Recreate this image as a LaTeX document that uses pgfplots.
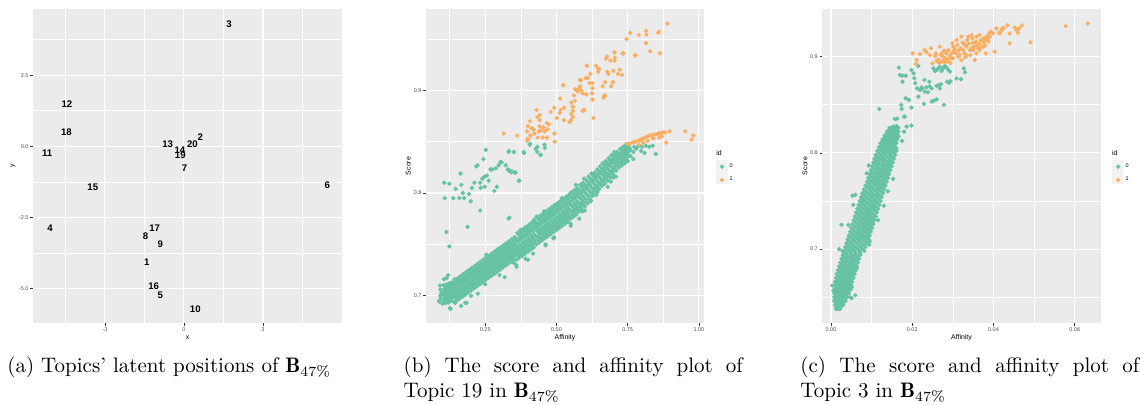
\documentclass[border=0pt]{standalone}
\usepackage{fontspec}
\usepackage{pgfplots}
\pgfplotsset{compat=1.18}
\newfontfamily\ggfont{Liberation Sans}
\newcommand\ticks{\ggfont\fontsize{2.75}{3.3}\selectfont}
\newcommand\ttl{\ggfont\fontsize{3.45}{4.1}\selectfont}
\newcommand\lab{\ggfont\bfseries\fontsize{4.8}{5.8}\selectfont}
\newcommand\capf{\fontsize{10.5}{12.5}\selectfont}
\definecolor{gg0}{HTML}{66C2A5}
\definecolor{gg1}{HTML}{FDAE61}
\definecolor{panel}{HTML}{EBEBEB}
\definecolor{keybg}{HTML}{F2F2F2}
\definecolor{tickc}{HTML}{333333}
\definecolor{tlab}{HTML}{4D4D4D}
\pgfplotsset{
  gg/.style={
    scale only axis, anchor=south west,
    axis background/.style={fill=panel},
    axis line style={draw=none},
    grid=both,
    major grid style={white, line width=0.55pt},
    minor grid style={white, line width=0.3pt},
    tick align=outside, xtick pos=left, ytick pos=left,
    major tick length=1.4pt, minor tick length=0pt,
    tick style={draw=tickc, line width=0.35pt},
    tick label style={font=\ticks, text=tlab},
    xticklabel style={inner sep=0.7pt},
    yticklabel style={inner sep=0.7pt},
    label style={font=\ttl, text=black},
    xlabel style={at={(axis description cs:0.5,-0.047)}, anchor=center},
    scaled ticks=false,
    /pgf/number format/assume math mode=true,
  },
  dots/.style={only marks, mark=*, mark size=0.88pt, mark options={draw=none, fill=#1}, color=#1},
  ggleg/.style={
    legend style={draw=none, fill=none, font=\ticks, at={(rel axis cs:#1,0.512)},
      anchor=north west, inner sep=0pt, row sep=2.6pt, column sep=2.6pt,
      nodes={inner sep=0.3pt}, cells={anchor=west}},
    legend image code/.code={\draw[##1] plot coordinates {(0pt,0pt)};},
  },
}
\begin{document}
\begin{tikzpicture}
\useasboundingbox (0,0) rectangle (570pt,202pt);
% legend key backgrounds
\fill[keybg] (358pt,110.25pt) rectangle (364pt,122.25pt);
\fill[keybg] (556pt,110.25pt) rectangle (561.5pt,122.25pt);

% (a) latent positions
\begin{axis}[gg, at={(16.5pt,40.5pt)}, width=154.5pt, height=157pt,
  xmin=-5.73, xmax=6.0, ymin=-6.2, ymax=4.82,
  xtick={-3,0,3}, minor xtick={-4.5,-1.5,1.5,4.5},
  ytick={-5,-2.5,0,2.5}, minor ytick={-3.75,-1.25,1.25,3.75},
  yticklabel style={/pgf/number format/fixed, /pgf/number format/fixed zerofill, /pgf/number format/precision=1},
  xlabel={x}, ylabel={y},
  ylabel style={at={(axis description cs:-0.065,0.5)}, anchor=center},
]
\addplot[only marks, mark=none, nodes near coords, point meta=explicit symbolic,
  nodes near coords align={center},
  every node near coord/.append style={font=\lab, text=black, inner sep=0pt, anchor=center}]
  table[meta=lab] {
x y lab
1.71 4.30 3
-4.44 1.49 12
-4.46 0.48 18
-5.19 -0.24 11
-0.62 0.09 13
0.62 0.33 2
0.32 0.06 20
-0.15 -0.13 14
-0.14 -0.31 19
0.02 -0.78 7
-3.46 -1.42 15
5.44 -1.38 6
-5.08 -2.89 4
-1.11 -2.86 17
-1.46 -3.14 8
-0.90 -3.45 9
-1.41 -4.05 1
-1.15 -4.91 16
-0.90 -5.21 5
0.43 -5.73 10
};
\end{axis}

% (b) Topic 19
\begin{axis}[gg, ggleg=1.057, at={(213pt,40.5pt)}, width=139pt, height=157pt,
  xmin=0.042, xmax=1.018, ymin=0.6734, ymax=0.9792,
  xtick={0.25,0.5,0.75,1}, minor xtick={0.125,0.375,0.625,0.875},
  ytick={0.7,0.8,0.9}, minor ytick={0.75,0.85,0.95},
  xticklabel style={/pgf/number format/fixed, /pgf/number format/fixed zerofill, /pgf/number format/precision=2},
  yticklabel style={/pgf/number format/fixed, /pgf/number format/fixed zerofill, /pgf/number format/precision=1},
  xlabel={Affinity}, ylabel={Score},
  ylabel style={at={(axis description cs:-0.064,0.5)}, anchor=center},
]
\addplot[dots=gg0] coordinates {
(0.090,0.694) (0.094,0.697) (0.092,0.700) (0.096,0.703) (0.093,0.706)
(0.100,0.692) (0.104,0.697) (0.102,0.701) (0.106,0.706) (0.103,0.710)
(0.110,0.693) (0.114,0.698) (0.112,0.702) (0.116,0.707) (0.113,0.711)
(0.120,0.694) (0.124,0.699) (0.122,0.703) (0.126,0.708) (0.123,0.712)
(0.130,0.695) (0.134,0.700) (0.132,0.704) (0.136,0.709) (0.133,0.713)
(0.140,0.694) (0.144,0.700) (0.142,0.705) (0.146,0.711) (0.143,0.716)
(0.150,0.695) (0.154,0.701) (0.152,0.706) (0.156,0.712) (0.153,0.717)
(0.160,0.697) (0.164,0.703) (0.162,0.708) (0.166,0.714) (0.163,0.719)
(0.170,0.699) (0.174,0.705) (0.172,0.710) (0.176,0.716) (0.173,0.721)
(0.180,0.701) (0.184,0.707) (0.182,0.712) (0.186,0.718) (0.183,0.723)
(0.190,0.703) (0.194,0.709) (0.192,0.714) (0.196,0.720) (0.193,0.725)
(0.200,0.705) (0.204,0.711) (0.202,0.716) (0.206,0.722) (0.203,0.727)
(0.210,0.707) (0.214,0.713) (0.212,0.718) (0.216,0.724) (0.213,0.729)
(0.220,0.709) (0.224,0.715) (0.222,0.720) (0.226,0.726) (0.223,0.731)
(0.230,0.711) (0.234,0.717) (0.232,0.722) (0.236,0.728) (0.233,0.733)
(0.240,0.713) (0.244,0.719) (0.242,0.724) (0.246,0.730) (0.243,0.735)
(0.250,0.715) (0.254,0.721) (0.252,0.726) (0.256,0.732) (0.253,0.737)
(0.260,0.717) (0.264,0.723) (0.262,0.728) (0.266,0.734) (0.263,0.739)
(0.270,0.719) (0.274,0.725) (0.272,0.730) (0.276,0.736) (0.273,0.741)
(0.280,0.721) (0.284,0.727) (0.282,0.732) (0.286,0.738) (0.283,0.743)
(0.290,0.723) (0.294,0.729) (0.292,0.734) (0.296,0.740) (0.293,0.745)
(0.300,0.725) (0.304,0.731) (0.302,0.736) (0.306,0.742) (0.303,0.747)
(0.310,0.727) (0.314,0.733) (0.312,0.738) (0.316,0.744) (0.313,0.749)
(0.320,0.729) (0.324,0.735) (0.322,0.740) (0.326,0.746) (0.323,0.751)
(0.330,0.731) (0.334,0.737) (0.332,0.742) (0.336,0.748) (0.333,0.753)
(0.340,0.733) (0.344,0.739) (0.342,0.744) (0.346,0.750) (0.343,0.755)
(0.350,0.735) (0.354,0.741) (0.352,0.746) (0.356,0.752) (0.353,0.757)
(0.360,0.735) (0.364,0.742) (0.362,0.748) (0.366,0.755) (0.363,0.761)
(0.370,0.737) (0.374,0.744) (0.372,0.750) (0.376,0.757) (0.373,0.763)
(0.380,0.739) (0.384,0.746) (0.382,0.752) (0.386,0.759) (0.383,0.765)
(0.390,0.741) (0.394,0.748) (0.392,0.754) (0.396,0.761) (0.393,0.767)
(0.400,0.743) (0.404,0.750) (0.402,0.756) (0.406,0.763) (0.403,0.769)
(0.410,0.745) (0.414,0.752) (0.412,0.758) (0.416,0.765) (0.413,0.771)
(0.420,0.747) (0.424,0.754) (0.422,0.760) (0.426,0.767) (0.423,0.773)
(0.430,0.750) (0.434,0.757) (0.432,0.763) (0.436,0.770) (0.433,0.776)
(0.440,0.752) (0.444,0.759) (0.442,0.765) (0.446,0.772) (0.443,0.778)
(0.450,0.754) (0.454,0.761) (0.452,0.767) (0.456,0.774) (0.453,0.780)
(0.460,0.756) (0.464,0.763) (0.462,0.769) (0.466,0.776) (0.463,0.782)
(0.470,0.758) (0.474,0.765) (0.472,0.771) (0.476,0.778) (0.473,0.784)
(0.480,0.760) (0.484,0.767) (0.482,0.773) (0.486,0.780) (0.483,0.786)
(0.490,0.762) (0.494,0.769) (0.492,0.775) (0.496,0.782) (0.493,0.788)
(0.500,0.764) (0.504,0.771) (0.502,0.777) (0.506,0.784) (0.503,0.790)
(0.510,0.766) (0.514,0.773) (0.512,0.779) (0.516,0.786) (0.513,0.792)
(0.520,0.768) (0.524,0.775) (0.522,0.781) (0.526,0.788) (0.523,0.794)
(0.530,0.770) (0.534,0.777) (0.532,0.783) (0.536,0.790) (0.533,0.796)
(0.540,0.772) (0.544,0.779) (0.542,0.785) (0.546,0.792) (0.543,0.798)
(0.550,0.775) (0.554,0.782) (0.552,0.788) (0.556,0.795) (0.553,0.801)
(0.560,0.777) (0.564,0.784) (0.562,0.790) (0.566,0.797) (0.563,0.803)
(0.570,0.779) (0.574,0.786) (0.572,0.792) (0.576,0.799) (0.573,0.805)
(0.580,0.782) (0.584,0.789) (0.582,0.795) (0.586,0.802) (0.583,0.808)
(0.590,0.784) (0.594,0.791) (0.592,0.797) (0.596,0.804) (0.593,0.810)
(0.600,0.787) (0.604,0.794) (0.602,0.800) (0.606,0.807) (0.603,0.813)
(0.610,0.790) (0.614,0.797) (0.612,0.803) (0.616,0.810) (0.613,0.816)
(0.620,0.793) (0.624,0.800) (0.622,0.806) (0.626,0.813) (0.623,0.819)
(0.630,0.798) (0.634,0.804) (0.632,0.809) (0.636,0.815) (0.633,0.820)
(0.640,0.801) (0.644,0.807) (0.642,0.812) (0.646,0.818) (0.643,0.823)
(0.650,0.804) (0.654,0.810) (0.652,0.815) (0.656,0.821) (0.653,0.826)
(0.660,0.807) (0.664,0.813) (0.662,0.818) (0.666,0.824) (0.663,0.829)
(0.670,0.809) (0.674,0.815) (0.672,0.820) (0.676,0.826) (0.673,0.831)
(0.680,0.812) (0.684,0.818) (0.682,0.823) (0.686,0.829) (0.683,0.834)
(0.690,0.815) (0.694,0.821) (0.692,0.826) (0.696,0.832) (0.693,0.837)
(0.700,0.818) (0.704,0.824) (0.702,0.829) (0.706,0.835) (0.703,0.840)
(0.710,0.822) (0.714,0.827) (0.712,0.831) (0.716,0.835) (0.713,0.840)
(0.720,0.825) (0.724,0.830) (0.722,0.834) (0.726,0.838) (0.723,0.843)
(0.730,0.827) (0.734,0.832) (0.732,0.836) (0.736,0.840) (0.733,0.845)
(0.740,0.829) (0.744,0.834) (0.742,0.838) (0.746,0.842) (0.743,0.847)
(0.750,0.831) (0.754,0.836) (0.752,0.840) (0.756,0.844) (0.753,0.847)
(0.105,0.695) (0.108,0.700) (0.106,0.704) (0.109,0.709)
(0.115,0.696) (0.118,0.701) (0.116,0.705) (0.119,0.710)
(0.125,0.697) (0.128,0.702) (0.126,0.706) (0.129,0.711)
(0.135,0.698) (0.138,0.703) (0.136,0.707) (0.139,0.712)
(0.145,0.698) (0.148,0.703) (0.146,0.709) (0.149,0.714)
(0.155,0.699) (0.158,0.704) (0.156,0.710) (0.159,0.715)
(0.165,0.701) (0.168,0.706) (0.166,0.712) (0.169,0.717)
(0.175,0.703) (0.178,0.708) (0.176,0.714) (0.179,0.719)
(0.185,0.705) (0.188,0.710) (0.186,0.716) (0.189,0.721)
(0.195,0.707) (0.198,0.712) (0.196,0.718) (0.199,0.723)
(0.205,0.709) (0.208,0.714) (0.206,0.720) (0.209,0.725)
(0.215,0.711) (0.218,0.716) (0.216,0.722) (0.219,0.727)
(0.225,0.713) (0.228,0.718) (0.226,0.724) (0.229,0.729)
(0.235,0.715) (0.238,0.720) (0.236,0.726) (0.239,0.731)
(0.245,0.717) (0.248,0.722) (0.246,0.728) (0.249,0.733)
(0.255,0.719) (0.258,0.724) (0.256,0.730) (0.259,0.735)
(0.265,0.721) (0.268,0.726) (0.266,0.732) (0.269,0.737)
(0.275,0.723) (0.278,0.728) (0.276,0.734) (0.279,0.739)
(0.285,0.725) (0.288,0.730) (0.286,0.736) (0.289,0.741)
(0.295,0.727) (0.298,0.732) (0.296,0.738) (0.299,0.743)
(0.305,0.729) (0.308,0.734) (0.306,0.740) (0.309,0.745)
(0.315,0.731) (0.318,0.736) (0.316,0.742) (0.319,0.747)
(0.325,0.733) (0.328,0.738) (0.326,0.744) (0.329,0.749)
(0.335,0.735) (0.338,0.740) (0.336,0.746) (0.339,0.751)
(0.345,0.737) (0.348,0.742) (0.346,0.748) (0.349,0.753)
(0.355,0.739) (0.358,0.744) (0.356,0.750) (0.359,0.755)
(0.365,0.739) (0.368,0.746) (0.366,0.753) (0.369,0.759)
(0.375,0.741) (0.378,0.748) (0.376,0.755) (0.379,0.761)
(0.385,0.743) (0.388,0.750) (0.386,0.757) (0.389,0.763)
(0.395,0.745) (0.398,0.752) (0.396,0.759) (0.399,0.765)
(0.405,0.747) (0.408,0.754) (0.406,0.761) (0.409,0.767)
(0.415,0.749) (0.418,0.756) (0.416,0.763) (0.419,0.769)
(0.425,0.751) (0.428,0.758) (0.426,0.765) (0.429,0.771)
(0.435,0.754) (0.438,0.761) (0.436,0.768) (0.439,0.774)
(0.445,0.756) (0.448,0.763) (0.446,0.770) (0.449,0.776)
(0.455,0.758) (0.458,0.765) (0.456,0.772) (0.459,0.778)
(0.465,0.760) (0.468,0.767) (0.466,0.774) (0.469,0.780)
(0.475,0.762) (0.478,0.769) (0.476,0.776) (0.479,0.782)
(0.485,0.764) (0.488,0.771) (0.486,0.778) (0.489,0.784)
(0.495,0.766) (0.498,0.773) (0.496,0.780) (0.499,0.786)
(0.505,0.768) (0.508,0.775) (0.506,0.782) (0.509,0.788)
(0.515,0.770) (0.518,0.777) (0.516,0.784) (0.519,0.790)
(0.525,0.772) (0.528,0.779) (0.526,0.786) (0.529,0.792)
(0.535,0.774) (0.538,0.781) (0.536,0.788) (0.539,0.794)
(0.545,0.776) (0.548,0.783) (0.546,0.790) (0.549,0.796)
(0.555,0.779) (0.558,0.786) (0.556,0.793) (0.559,0.799)
(0.565,0.781) (0.568,0.788) (0.566,0.795) (0.569,0.801)
(0.575,0.783) (0.578,0.790) (0.576,0.797) (0.579,0.803)
(0.585,0.786) (0.588,0.793) (0.586,0.800) (0.589,0.806)
(0.595,0.788) (0.598,0.795) (0.596,0.802) (0.599,0.808)
(0.605,0.791) (0.608,0.798) (0.606,0.805) (0.609,0.811)
(0.615,0.794) (0.618,0.801) (0.616,0.808) (0.619,0.814)
(0.625,0.797) (0.628,0.804) (0.626,0.811) (0.629,0.817)
(0.635,0.802) (0.638,0.807) (0.636,0.813) (0.639,0.818)
(0.645,0.805) (0.648,0.810) (0.646,0.816) (0.649,0.821)
(0.655,0.808) (0.658,0.813) (0.656,0.819) (0.659,0.824)
(0.665,0.811) (0.668,0.816) (0.666,0.822) (0.669,0.827)
(0.675,0.813) (0.678,0.818) (0.676,0.824) (0.679,0.829)
(0.685,0.816) (0.688,0.821) (0.686,0.827) (0.689,0.832)
(0.695,0.819) (0.698,0.824) (0.696,0.830) (0.699,0.835)
(0.705,0.822) (0.708,0.827) (0.706,0.833) (0.709,0.838)
(0.715,0.826) (0.718,0.830) (0.716,0.834) (0.719,0.838)
(0.725,0.829) (0.728,0.833) (0.726,0.837) (0.729,0.841)
(0.735,0.831) (0.738,0.835) (0.736,0.839) (0.739,0.843)
(0.745,0.833) (0.748,0.837) (0.746,0.841) (0.749,0.845)
(0.760,0.836) (0.770,0.840) (0.780,0.843) (0.785,0.845) (0.797,0.841)
(0.814,0.846) (0.838,0.846) (0.849,0.838) (0.760,0.842) (0.770,0.833)
(0.800,0.845) (0.826,0.845) (0.773,0.845) (0.809,0.839) (0.848,0.838)
(0.462,0.749) (0.491,0.756) (0.550,0.770) (0.591,0.782) (0.644,0.801)
(0.691,0.811) (0.709,0.816) (0.621,0.792) (0.391,0.736) (0.350,0.732)
(0.568,0.808) (0.597,0.814) (0.550,0.800) (0.456,0.782) (0.421,0.774)
(0.374,0.764) (0.662,0.829) (0.697,0.837) (0.738,0.844)
(0.128,0.687) (0.180,0.693) (0.224,0.702) (0.318,0.718) (0.359,0.730)
(0.418,0.741) (0.489,0.756) (0.254,0.740) (0.395,0.764)
(0.303,0.830) (0.332,0.822) (0.344,0.821) (0.356,0.820) (0.368,0.812)
(0.332,0.775) (0.332,0.840) (0.350,0.840) (0.385,0.840) (0.406,0.847)
(0.427,0.843) (0.444,0.837)
(0.462,0.750) (0.492,0.757) (0.430,0.777) (0.520,0.795) (0.580,0.775)
(0.640,0.798) (0.680,0.806) (0.700,0.815) (0.300,0.720) (0.250,0.711)
(0.200,0.700) (0.165,0.690) (0.126,0.688) (0.120,0.693) (0.144,0.693)
(0.185,0.693) (0.088,0.695) (0.091,0.710) (0.360,0.728) (0.400,0.735)
(0.550,0.768) (0.600,0.783) (0.105,0.716) (0.114,0.717) (0.120,0.720)
(0.106,0.810) (0.124,0.809) (0.108,0.795) (0.114,0.762) (0.124,0.748)
(0.138,0.795) (0.146,0.804) (0.159,0.795) (0.163,0.819) (0.166,0.808)
(0.171,0.800) (0.176,0.795) (0.188,0.767) (0.193,0.799) (0.199,0.792)
(0.203,0.805) (0.212,0.810) (0.218,0.826) (0.223,0.827) (0.232,0.783)
(0.232,0.810) (0.234,0.805) (0.240,0.814) (0.244,0.833) (0.248,0.816)
(0.252,0.842) (0.256,0.817) (0.262,0.812) (0.268,0.823) (0.274,0.823)
(0.282,0.802) (0.287,0.824) (0.291,0.806) (0.297,0.827) (0.307,0.830)
(0.322,0.827) (0.329,0.823) (0.335,0.822) (0.335,0.776) (0.341,0.820)
(0.354,0.820) (0.333,0.841) (0.351,0.840) (0.370,0.812) (0.386,0.839)
(0.407,0.848) (0.433,0.845) (0.433,0.840) (0.445,0.837) (0.458,0.847)
(0.459,0.844) (0.248,0.806)
};
\addplot[dots=gg1] coordinates {
(0.759,0.956) (0.789,0.954) (0.814,0.958) (0.816,0.954) (0.857,0.956)
(0.860,0.957) (0.890,0.965) (0.746,0.950) (0.814,0.946) (0.829,0.938)
(0.863,0.936) (0.778,0.934) (0.735,0.936) (0.704,0.937) (0.705,0.932)
(0.705,0.929) (0.677,0.933) (0.689,0.929) (0.639,0.924) (0.650,0.921)
(0.606,0.924) (0.619,0.916) (0.610,0.912) (0.616,0.907) (0.647,0.918)
(0.679,0.918) (0.682,0.916) (0.700,0.919) (0.716,0.916) (0.722,0.920)
(0.730,0.915) (0.698,0.908) (0.692,0.904) (0.671,0.908) (0.662,0.904)
(0.669,0.895) (0.665,0.893) (0.626,0.907) (0.626,0.902) (0.625,0.897)
(0.626,0.891) (0.605,0.896) (0.586,0.910) (0.583,0.904) (0.586,0.900)
(0.574,0.899) (0.592,0.897) (0.561,0.895) (0.565,0.890) (0.552,0.888)
(0.558,0.884) (0.557,0.880) (0.552,0.877) (0.557,0.874) (0.551,0.871)
(0.546,0.869) (0.524,0.905) (0.513,0.892) (0.501,0.873) (0.515,0.881)
(0.527,0.883) (0.511,0.878) (0.592,0.880) (0.598,0.881) (0.630,0.873)
(0.526,0.871) (0.565,0.901) (0.579,0.902) (0.492,0.883) (0.480,0.879)
(0.473,0.867) (0.466,0.868) (0.468,0.862) (0.441,0.876) (0.441,0.871)
(0.441,0.865) (0.430,0.881) (0.433,0.874) (0.407,0.870) (0.413,0.863)
(0.400,0.865) (0.397,0.860) (0.409,0.856) (0.423,0.858) (0.419,0.862)
(0.439,0.860) (0.445,0.861) (0.454,0.864) (0.458,0.860) (0.467,0.854)
(0.452,0.854) (0.434,0.854) (0.493,0.858) (0.494,0.850) (0.400,0.853)
(0.397,0.851) (0.315,0.858) (0.362,0.856) (0.674,0.931) (0.703,0.937)
(0.732,0.936) (0.776,0.934) (0.646,0.921) (0.603,0.912) (0.582,0.910)
(0.668,0.894) (0.670,0.895) (0.607,0.924) (0.523,0.905)
(0.748,0.848) (0.756,0.848) (0.765,0.849) (0.772,0.850) (0.779,0.850)
(0.787,0.851) (0.795,0.852) (0.803,0.853) (0.810,0.854) (0.818,0.855)
(0.826,0.856) (0.834,0.856) (0.841,0.857) (0.849,0.857) (0.857,0.858)
(0.865,0.858) (0.873,0.859) (0.881,0.859) (0.897,0.860) (0.790,0.847)
(0.805,0.849) (0.820,0.851) (0.840,0.853) (0.860,0.854) (0.885,0.849)
(0.952,0.860) (0.980,0.856) (0.974,0.852) (0.870,0.855)
};
\addlegendentry{0}
\addlegendentry{1}
\end{axis}

% (c) Topic 3
\begin{axis}[gg, ggleg=1.055, at={(411.15pt,40.5pt)}, width=139.2pt, height=157pt,
  xmin=-0.00214, xmax=0.0664, ymin=0.6231, ymax=0.9496,
  xtick={0,0.02,0.04,0.06}, minor xtick={0.01,0.03,0.05},
  ytick={0.7,0.8,0.9}, minor ytick={0.65,0.75,0.85},
  xticklabel style={/pgf/number format/fixed, /pgf/number format/fixed zerofill, /pgf/number format/precision=2},
  yticklabel style={/pgf/number format/fixed, /pgf/number format/fixed zerofill, /pgf/number format/precision=1},
  xlabel={Affinity}, ylabel={Score},
  ylabel style={at={(axis description cs:-0.062,0.5)}, anchor=center},
]
\addplot[dots=gg0] coordinates {
(0.0012,0.638) (0.0015,0.638) (0.0017,0.638) (0.0020,0.638) (0.0022,0.638)
(0.0010,0.642) (0.0015,0.642) (0.0020,0.642) (0.0025,0.642) (0.0030,0.642)
(0.0008,0.646) (0.0015,0.646) (0.0022,0.646) (0.0029,0.646) (0.0036,0.646)
(0.0008,0.650) (0.0016,0.650) (0.0024,0.650) (0.0032,0.650) (0.0040,0.650)
(0.0008,0.654) (0.0017,0.654) (0.0026,0.654) (0.0035,0.654) (0.0044,0.654)
(0.0008,0.658) (0.0018,0.658) (0.0028,0.658) (0.0038,0.658) (0.0048,0.658)
(0.0009,0.662) (0.0019,0.662) (0.0030,0.662) (0.0040,0.662) (0.0050,0.662)
(0.0010,0.666) (0.0021,0.666) (0.0031,0.666) (0.0042,0.666) (0.0052,0.666)
(0.0012,0.670) (0.0023,0.670) (0.0034,0.670) (0.0044,0.670) (0.0055,0.670)
(0.0014,0.674) (0.0025,0.674) (0.0036,0.674) (0.0047,0.674) (0.0058,0.674)
(0.0017,0.678) (0.0028,0.678) (0.0039,0.678) (0.0050,0.678) (0.0061,0.678)
(0.0020,0.682) (0.0031,0.682) (0.0042,0.682) (0.0052,0.682) (0.0063,0.682)
(0.0023,0.686) (0.0034,0.686) (0.0045,0.686) (0.0055,0.686) (0.0066,0.686)
(0.0026,0.690) (0.0037,0.690) (0.0048,0.690) (0.0058,0.690) (0.0069,0.690)
(0.0029,0.694) (0.0040,0.694) (0.0051,0.694) (0.0061,0.694) (0.0072,0.694)
(0.0032,0.698) (0.0045,0.698) (0.0057,0.698) (0.0070,0.698) (0.0082,0.698)
(0.0035,0.702) (0.0048,0.702) (0.0060,0.702) (0.0073,0.702) (0.0085,0.702)
(0.0038,0.706) (0.0051,0.706) (0.0064,0.706) (0.0076,0.706) (0.0089,0.706)
(0.0041,0.710) (0.0054,0.710) (0.0067,0.710) (0.0079,0.710) (0.0092,0.710)
(0.0044,0.714) (0.0057,0.714) (0.0070,0.714) (0.0082,0.714) (0.0095,0.714)
(0.0047,0.718) (0.0060,0.718) (0.0073,0.718) (0.0085,0.718) (0.0098,0.718)
(0.0050,0.722) (0.0063,0.722) (0.0076,0.722) (0.0088,0.722) (0.0101,0.722)
(0.0053,0.726) (0.0066,0.726) (0.0079,0.726) (0.0091,0.726) (0.0104,0.726)
(0.0056,0.730) (0.0069,0.730) (0.0082,0.730) (0.0094,0.730) (0.0107,0.730)
(0.0059,0.734) (0.0072,0.734) (0.0085,0.734) (0.0097,0.734) (0.0110,0.734)
(0.0062,0.738) (0.0075,0.738) (0.0088,0.738) (0.0100,0.738) (0.0113,0.738)
(0.0065,0.742) (0.0078,0.742) (0.0091,0.742) (0.0103,0.742) (0.0116,0.742)
(0.0068,0.746) (0.0081,0.746) (0.0094,0.746) (0.0106,0.746) (0.0119,0.746)
(0.0071,0.750) (0.0084,0.750) (0.0097,0.750) (0.0109,0.750) (0.0122,0.750)
(0.0074,0.754) (0.0087,0.754) (0.0100,0.754) (0.0112,0.754) (0.0125,0.754)
(0.0077,0.758) (0.0090,0.758) (0.0103,0.758) (0.0115,0.758) (0.0128,0.758)
(0.0081,0.762) (0.0094,0.762) (0.0106,0.762) (0.0119,0.762) (0.0131,0.762)
(0.0085,0.766) (0.0097,0.766) (0.0110,0.766) (0.0122,0.766) (0.0134,0.766)
(0.0089,0.770) (0.0101,0.770) (0.0113,0.770) (0.0125,0.770) (0.0137,0.770)
(0.0092,0.774) (0.0104,0.774) (0.0116,0.774) (0.0128,0.774) (0.0140,0.774)
(0.0095,0.778) (0.0107,0.778) (0.0119,0.778) (0.0131,0.778) (0.0143,0.778)
(0.0098,0.782) (0.0110,0.782) (0.0122,0.782) (0.0134,0.782) (0.0146,0.782)
(0.0101,0.786) (0.0113,0.786) (0.0125,0.786) (0.0137,0.786) (0.0149,0.786)
(0.0104,0.790) (0.0116,0.790) (0.0128,0.790) (0.0140,0.790) (0.0152,0.790)
(0.0107,0.794) (0.0119,0.794) (0.0131,0.794) (0.0143,0.794) (0.0155,0.794)
(0.0110,0.798) (0.0122,0.798) (0.0134,0.798) (0.0146,0.798) (0.0158,0.798)
(0.0114,0.802) (0.0126,0.802) (0.0137,0.802) (0.0149,0.802) (0.0161,0.802)
(0.0118,0.806) (0.0128,0.806) (0.0138,0.806) (0.0148,0.806) (0.0158,0.806)
(0.0122,0.810) (0.0132,0.810) (0.0141,0.810) (0.0151,0.810) (0.0161,0.810)
(0.0127,0.814) (0.0136,0.814) (0.0145,0.814) (0.0154,0.814) (0.0163,0.814)
(0.0132,0.818) (0.0140,0.818) (0.0148,0.818) (0.0157,0.818) (0.0165,0.818)
(0.0138,0.822) (0.0145,0.822) (0.0152,0.822) (0.0159,0.822) (0.0166,0.822)
(0.0144,0.826) (0.0150,0.826) (0.0155,0.826) (0.0161,0.826) (0.0166,0.826)
(0.0013,0.640) (0.0017,0.640) (0.0020,0.640) (0.0024,0.640)
(0.0012,0.644) (0.0018,0.644) (0.0024,0.644) (0.0030,0.644)
(0.0012,0.648) (0.0019,0.648) (0.0027,0.648) (0.0034,0.648)
(0.0012,0.652) (0.0021,0.652) (0.0029,0.652) (0.0038,0.652)
(0.0013,0.656) (0.0022,0.656) (0.0032,0.656) (0.0041,0.656)
(0.0014,0.660) (0.0024,0.660) (0.0034,0.660) (0.0044,0.660)
(0.0015,0.664) (0.0025,0.664) (0.0036,0.664) (0.0046,0.664)
(0.0016,0.668) (0.0027,0.668) (0.0038,0.668) (0.0048,0.668)
(0.0018,0.672) (0.0029,0.672) (0.0040,0.672) (0.0051,0.672)
(0.0021,0.676) (0.0032,0.676) (0.0043,0.676) (0.0054,0.676)
(0.0024,0.680) (0.0035,0.680) (0.0046,0.680) (0.0057,0.680)
(0.0027,0.684) (0.0037,0.684) (0.0048,0.684) (0.0059,0.684)
(0.0030,0.688) (0.0040,0.688) (0.0051,0.688) (0.0062,0.688)
(0.0033,0.692) (0.0043,0.692) (0.0054,0.692) (0.0065,0.692)
(0.0036,0.696) (0.0048,0.696) (0.0060,0.696) (0.0071,0.696)
(0.0040,0.700) (0.0052,0.700) (0.0065,0.700) (0.0077,0.700)
(0.0043,0.704) (0.0055,0.704) (0.0068,0.704) (0.0081,0.704)
(0.0046,0.708) (0.0059,0.708) (0.0071,0.708) (0.0084,0.708)
(0.0049,0.712) (0.0062,0.712) (0.0074,0.712) (0.0087,0.712)
(0.0052,0.716) (0.0065,0.716) (0.0077,0.716) (0.0090,0.716)
(0.0055,0.720) (0.0068,0.720) (0.0080,0.720) (0.0093,0.720)
(0.0058,0.724) (0.0071,0.724) (0.0083,0.724) (0.0096,0.724)
(0.0061,0.728) (0.0074,0.728) (0.0086,0.728) (0.0099,0.728)
(0.0064,0.732) (0.0077,0.732) (0.0089,0.732) (0.0102,0.732)
(0.0067,0.736) (0.0080,0.736) (0.0092,0.736) (0.0105,0.736)
(0.0070,0.740) (0.0083,0.740) (0.0095,0.740) (0.0108,0.740)
(0.0073,0.744) (0.0086,0.744) (0.0098,0.744) (0.0111,0.744)
(0.0076,0.748) (0.0089,0.748) (0.0101,0.748) (0.0114,0.748)
(0.0079,0.752) (0.0092,0.752) (0.0104,0.752) (0.0117,0.752)
(0.0082,0.756) (0.0095,0.756) (0.0107,0.756) (0.0120,0.756)
(0.0085,0.760) (0.0098,0.760) (0.0111,0.760) (0.0123,0.760)
(0.0089,0.764) (0.0101,0.764) (0.0114,0.764) (0.0126,0.764)
(0.0093,0.768) (0.0105,0.768) (0.0117,0.768) (0.0129,0.768)
(0.0096,0.772) (0.0108,0.772) (0.0120,0.772) (0.0132,0.772)
(0.0099,0.776) (0.0111,0.776) (0.0123,0.776) (0.0135,0.776)
(0.0102,0.780) (0.0114,0.780) (0.0126,0.780) (0.0138,0.780)
(0.0105,0.784) (0.0117,0.784) (0.0129,0.784) (0.0141,0.784)
(0.0108,0.788) (0.0120,0.788) (0.0132,0.788) (0.0144,0.788)
(0.0111,0.792) (0.0123,0.792) (0.0135,0.792) (0.0147,0.792)
(0.0114,0.796) (0.0126,0.796) (0.0138,0.796) (0.0150,0.796)
(0.0118,0.800) (0.0130,0.800) (0.0142,0.800) (0.0154,0.800)
(0.0121,0.804) (0.0132,0.804) (0.0143,0.804) (0.0154,0.804)
(0.0125,0.808) (0.0135,0.808) (0.0145,0.808) (0.0155,0.808)
(0.0129,0.812) (0.0138,0.812) (0.0148,0.812) (0.0157,0.812)
(0.0134,0.816) (0.0142,0.816) (0.0151,0.816) (0.0160,0.816)
(0.0139,0.820) (0.0146,0.820) (0.0154,0.820) (0.0162,0.820)
(0.0144,0.824) (0.0150,0.824) (0.0157,0.824) (0.0163,0.824)
(0.0006,0.657) (0.0051,0.649) (0.0050,0.660) (0.0063,0.680) (0.0028,0.698)
(0.0043,0.725) (0.0055,0.746) (0.0096,0.708) (0.0100,0.727) (0.0116,0.730)
(0.0003,0.662) (0.0060,0.652) (0.0020,0.700) (0.0130,0.745) (0.0140,0.760)
(0.0167,0.8886) (0.0170,0.8810) (0.0176,0.8802) (0.0184,0.8802) (0.0176,0.8740)
(0.0198,0.8862) (0.0203,0.8828) (0.0205,0.8776) (0.0207,0.8724) (0.0215,0.8903)
(0.0225,0.8671) (0.0219,0.8654) (0.0230,0.8758) (0.0231,0.8637) (0.0235,0.8682)
(0.0239,0.8630) (0.0242,0.8740) (0.0248,0.8671) (0.0252,0.8879) (0.0256,0.8851)
(0.0260,0.8862) (0.0264,0.8879) (0.0268,0.8896) (0.0272,0.8851) (0.0276,0.8879)
(0.0280,0.8903) (0.0284,0.8889) (0.0289,0.8862) (0.0293,0.8845) (0.0268,0.8671)
(0.0266,0.8706) (0.0286,0.8740) (0.0291,0.8730) (0.0294,0.8747) (0.0309,0.8775)
(0.0320,0.8765) (0.0327,0.8879) (0.0330,0.8838) (0.0248,0.8533) (0.0253,0.8543)
(0.0260,0.8557) (0.0229,0.8509) (0.0215,0.8585) (0.0184,0.8568) (0.0192,0.8550)
(0.0173,0.8498) (0.0174,0.8457) (0.0198,0.8471) (0.0119,0.8457) (0.0163,0.8356)
(0.0180,0.8377) (0.0278,0.8498) (0.0212,0.8671) (0.0223,0.8682) (0.0243,0.8692)
(0.0260,0.8696) (0.0271,0.8713) (0.0198,0.8284) (0.0186,0.8273) (0.0182,0.8377)
(0.0180,0.8221) (0.0175,0.8125) (0.0157,0.8353) (0.0163,0.8218) (0.0088,0.7789)
(0.0093,0.7869) (0.0053,0.7554) (0.0060,0.7564) (0.0094,0.7045) (0.0063,0.6810)
(0.0080,0.7131) (0.0051,0.6602) (0.0047,0.6498) (0.0026,0.7253) (0.0120,0.7789)
(0.0153,0.7730) (0.0129,0.7927) (0.0112,0.7893) (0.0161,0.8048) (0.0166,0.8170)
(0.0149,0.8256) (0.0141,0.8221) (0.0153,0.8273) (0.0161,0.8280) (0.0010,0.6474)
(0.0014,0.6377) (0.0022,0.6377) (0.0039,0.6682) (0.0071,0.6958) (0.0104,0.7443)
(0.0112,0.7547) (0.0080,0.7512)
};
\addplot[dots=gg1] coordinates {
(0.0201,0.9035) (0.0211,0.8965) (0.0209,0.8924) (0.0219,0.9028) (0.0230,0.9069)
(0.0235,0.9048) (0.0246,0.9087) (0.0250,0.8931) (0.0256,0.9007) (0.0258,0.9035)
(0.0264,0.8972) (0.0268,0.9104) (0.0270,0.9017) (0.0273,0.9035) (0.0276,0.9000)
(0.0279,0.8965) (0.0280,0.8941) (0.0282,0.8983) (0.0284,0.9035) (0.0287,0.8972)
(0.0289,0.8948) (0.0293,0.9007) (0.0294,0.8931) (0.0296,0.8983) (0.0299,0.9138)
(0.0301,0.9104) (0.0301,0.9052) (0.0305,0.9076) (0.0309,0.9173) (0.0311,0.9121)
(0.0314,0.9062) (0.0317,0.9017) (0.0319,0.9087) (0.0321,0.8965) (0.0324,0.9145)
(0.0325,0.9069) (0.0328,0.9035) (0.0330,0.8993) (0.0334,0.9104) (0.0335,0.9173)
(0.0338,0.9208) (0.0340,0.9138) (0.0342,0.9069) (0.0343,0.9017) (0.0346,0.9225)
(0.0348,0.9190) (0.0350,0.9145) (0.0352,0.9104) (0.0354,0.8965) (0.0357,0.9156)
(0.0358,0.9208) (0.0360,0.9121) (0.0362,0.9087) (0.0365,0.9138) (0.0366,0.9225)
(0.0369,0.9173) (0.0371,0.9104) (0.0375,0.9156) (0.0376,0.9190) (0.0379,0.9121)
(0.0381,0.9035) (0.0383,0.9208) (0.0384,0.9180) (0.0387,0.9156) (0.0389,0.9242)
(0.0393,0.9260) (0.0403,0.9052) (0.0407,0.9294) (0.0414,0.9249) (0.0420,0.9277)
(0.0422,0.9298) (0.0434,0.9325) (0.0440,0.9242) (0.0452,0.9304) (0.0457,0.9277)
(0.0460,0.9249) (0.0463,0.9294) (0.0470,0.9325) (0.0440,0.9138) (0.0491,0.9149)
(0.0578,0.9318) (0.0632,0.9346) (0.0346,0.9087) (0.0330,0.9121) (0.0321,0.9208)
(0.0307,0.9035) (0.0297,0.9035) (0.0289,0.9069) (0.0278,0.9062) (0.0272,0.8948)
(0.0266,0.8938) (0.0260,0.8958) (0.0243,0.9017) (0.0380,0.9183) (0.0391,0.9208)
(0.0399,0.9242) (0.0416,0.9242) (0.0425,0.9298) (0.0366,0.9069) (0.0358,0.9035)
(0.0334,0.9017) (0.0313,0.9000) (0.0301,0.8983) (0.0350,0.9069) (0.0375,0.9104)
(0.0387,0.9208)
};
\addlegendentry{0}
\addlegendentry{1}
\end{axis}

% legend titles
\node[anchor=west, inner sep=0pt, font=\ttl] at (358pt,125.4pt) {id};
\node[anchor=west, inner sep=0pt, font=\ttl] at (555.8pt,125.4pt) {id};

% sub-captions
\node[anchor=north west, inner sep=0pt, font=\capf] at (3.5pt,23.7pt)
  {(a) Topics' latent positions of $\mathbf{B}_{47\%}$};
\node[anchor=north west, inner sep=0pt, font=\capf, text width=169.5pt, align=justify] at (201.65pt,23.7pt)
  {(b) The score and affinity plot of Topic 19 in $\mathbf{B}_{47\%}$};
\node[anchor=north west, inner sep=0pt, font=\capf, text width=169.5pt, align=justify] at (400pt,23.7pt)
  {(c) The score and affinity plot of Topic 3 in $\mathbf{B}_{47\%}$};
\end{tikzpicture}
\end{document}
